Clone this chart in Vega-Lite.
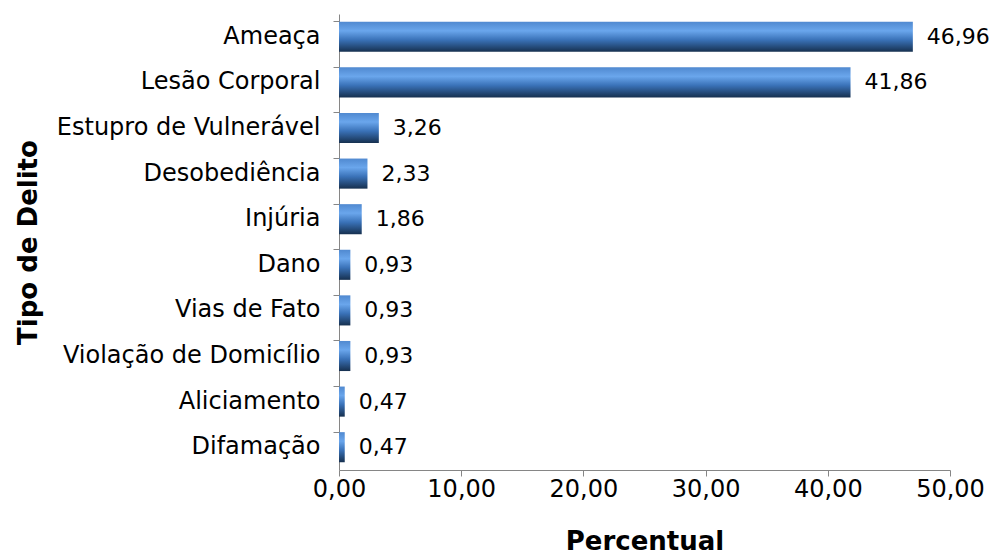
{
  "$schema": "https://vega.github.io/schema/vega-lite/v6.json",
  "width": 611,
  "height": 456,
  "autosize": {"type": "none"},
  "padding": {"left": 339, "top": 14, "right": 55, "bottom": 86},
  "background": "white",
  "config": {
    "locale": {"number": {"decimal": ",", "thousands": ".", "grouping": [3], "currency": ["R$", ""]}},
    "font": "DejaVu Sans",
    "view": {"stroke": null}
  },
  "data": {
    "values": [
      {"delito": "Ameaça", "pct": 46.96},
      {"delito": "Lesão Corporal", "pct": 41.86},
      {"delito": "Estupro de Vulnerável", "pct": 3.26},
      {"delito": "Desobediência", "pct": 2.33},
      {"delito": "Injúria", "pct": 1.86},
      {"delito": "Dano", "pct": 0.93},
      {"delito": "Vias de Fato", "pct": 0.93},
      {"delito": "Violação de Domicílio", "pct": 0.93},
      {"delito": "Aliciamento", "pct": 0.47},
      {"delito": "Difamação", "pct": 0.47}
    ]
  },
  "encoding": {
    "y": {
      "field": "delito",
      "type": "nominal",
      "sort": null,
      "scale": {"paddingInner": 0.34, "paddingOuter": 0.17},
      "axis": {
        "title": "Tipo de Delito",
        "titleFontSize": 26,
        "titleFontWeight": "bold",
        "titleColor": "black",
        "titleX": -311,
        "titleY": 228,
        "titleAngle": -90,
        "titleAlign": "center",
        "titleBaseline": "middle",
        "labelFontSize": 24,
        "labelColor": "black",
        "labelPadding": 13,
        "labelLimit": 400,
        "bandPosition": 0,
        "tickSize": 6,
        "tickColor": "#868686",
        "domainColor": "#868686"
      }
    },
    "x": {
      "field": "pct",
      "type": "quantitative",
      "scale": {"domain": [0, 50], "nice": false},
      "axis": {
        "title": "Percentual",
        "titleFontSize": 26,
        "titleFontWeight": "bold",
        "titleColor": "black",
        "titlePadding": 27,
        "values": [0, 10, 20, 30, 40, 50],
        "format": ".2f",
        "labelFontSize": 24,
        "labelColor": "black",
        "labelPadding": 1,
        "labelFlush": false,
        "tickSize": 6,
        "tickColor": "#868686",
        "domainColor": "#868686",
        "grid": false
      }
    }
  },
  "layer": [
    {
      "mark": {
        "type": "bar",
        "color": {
          "gradient": "linear",
          "x1": 0, "y1": 0, "x2": 0, "y2": 1,
          "stops": [
            {"offset": 0, "color": "#5089d0"},
            {"offset": 0.3, "color": "#6aa6ec"},
            {"offset": 0.6, "color": "#3a72b8"},
            {"offset": 1, "color": "#16304f"}
          ]
        }
      }
    },
    {
      "mark": {"type": "text", "align": "left", "baseline": "middle", "dx": 14, "fontSize": 22, "color": "black"},
      "encoding": {"text": {"field": "pct", "type": "quantitative", "format": ".2f"}}
    }
  ]
}
